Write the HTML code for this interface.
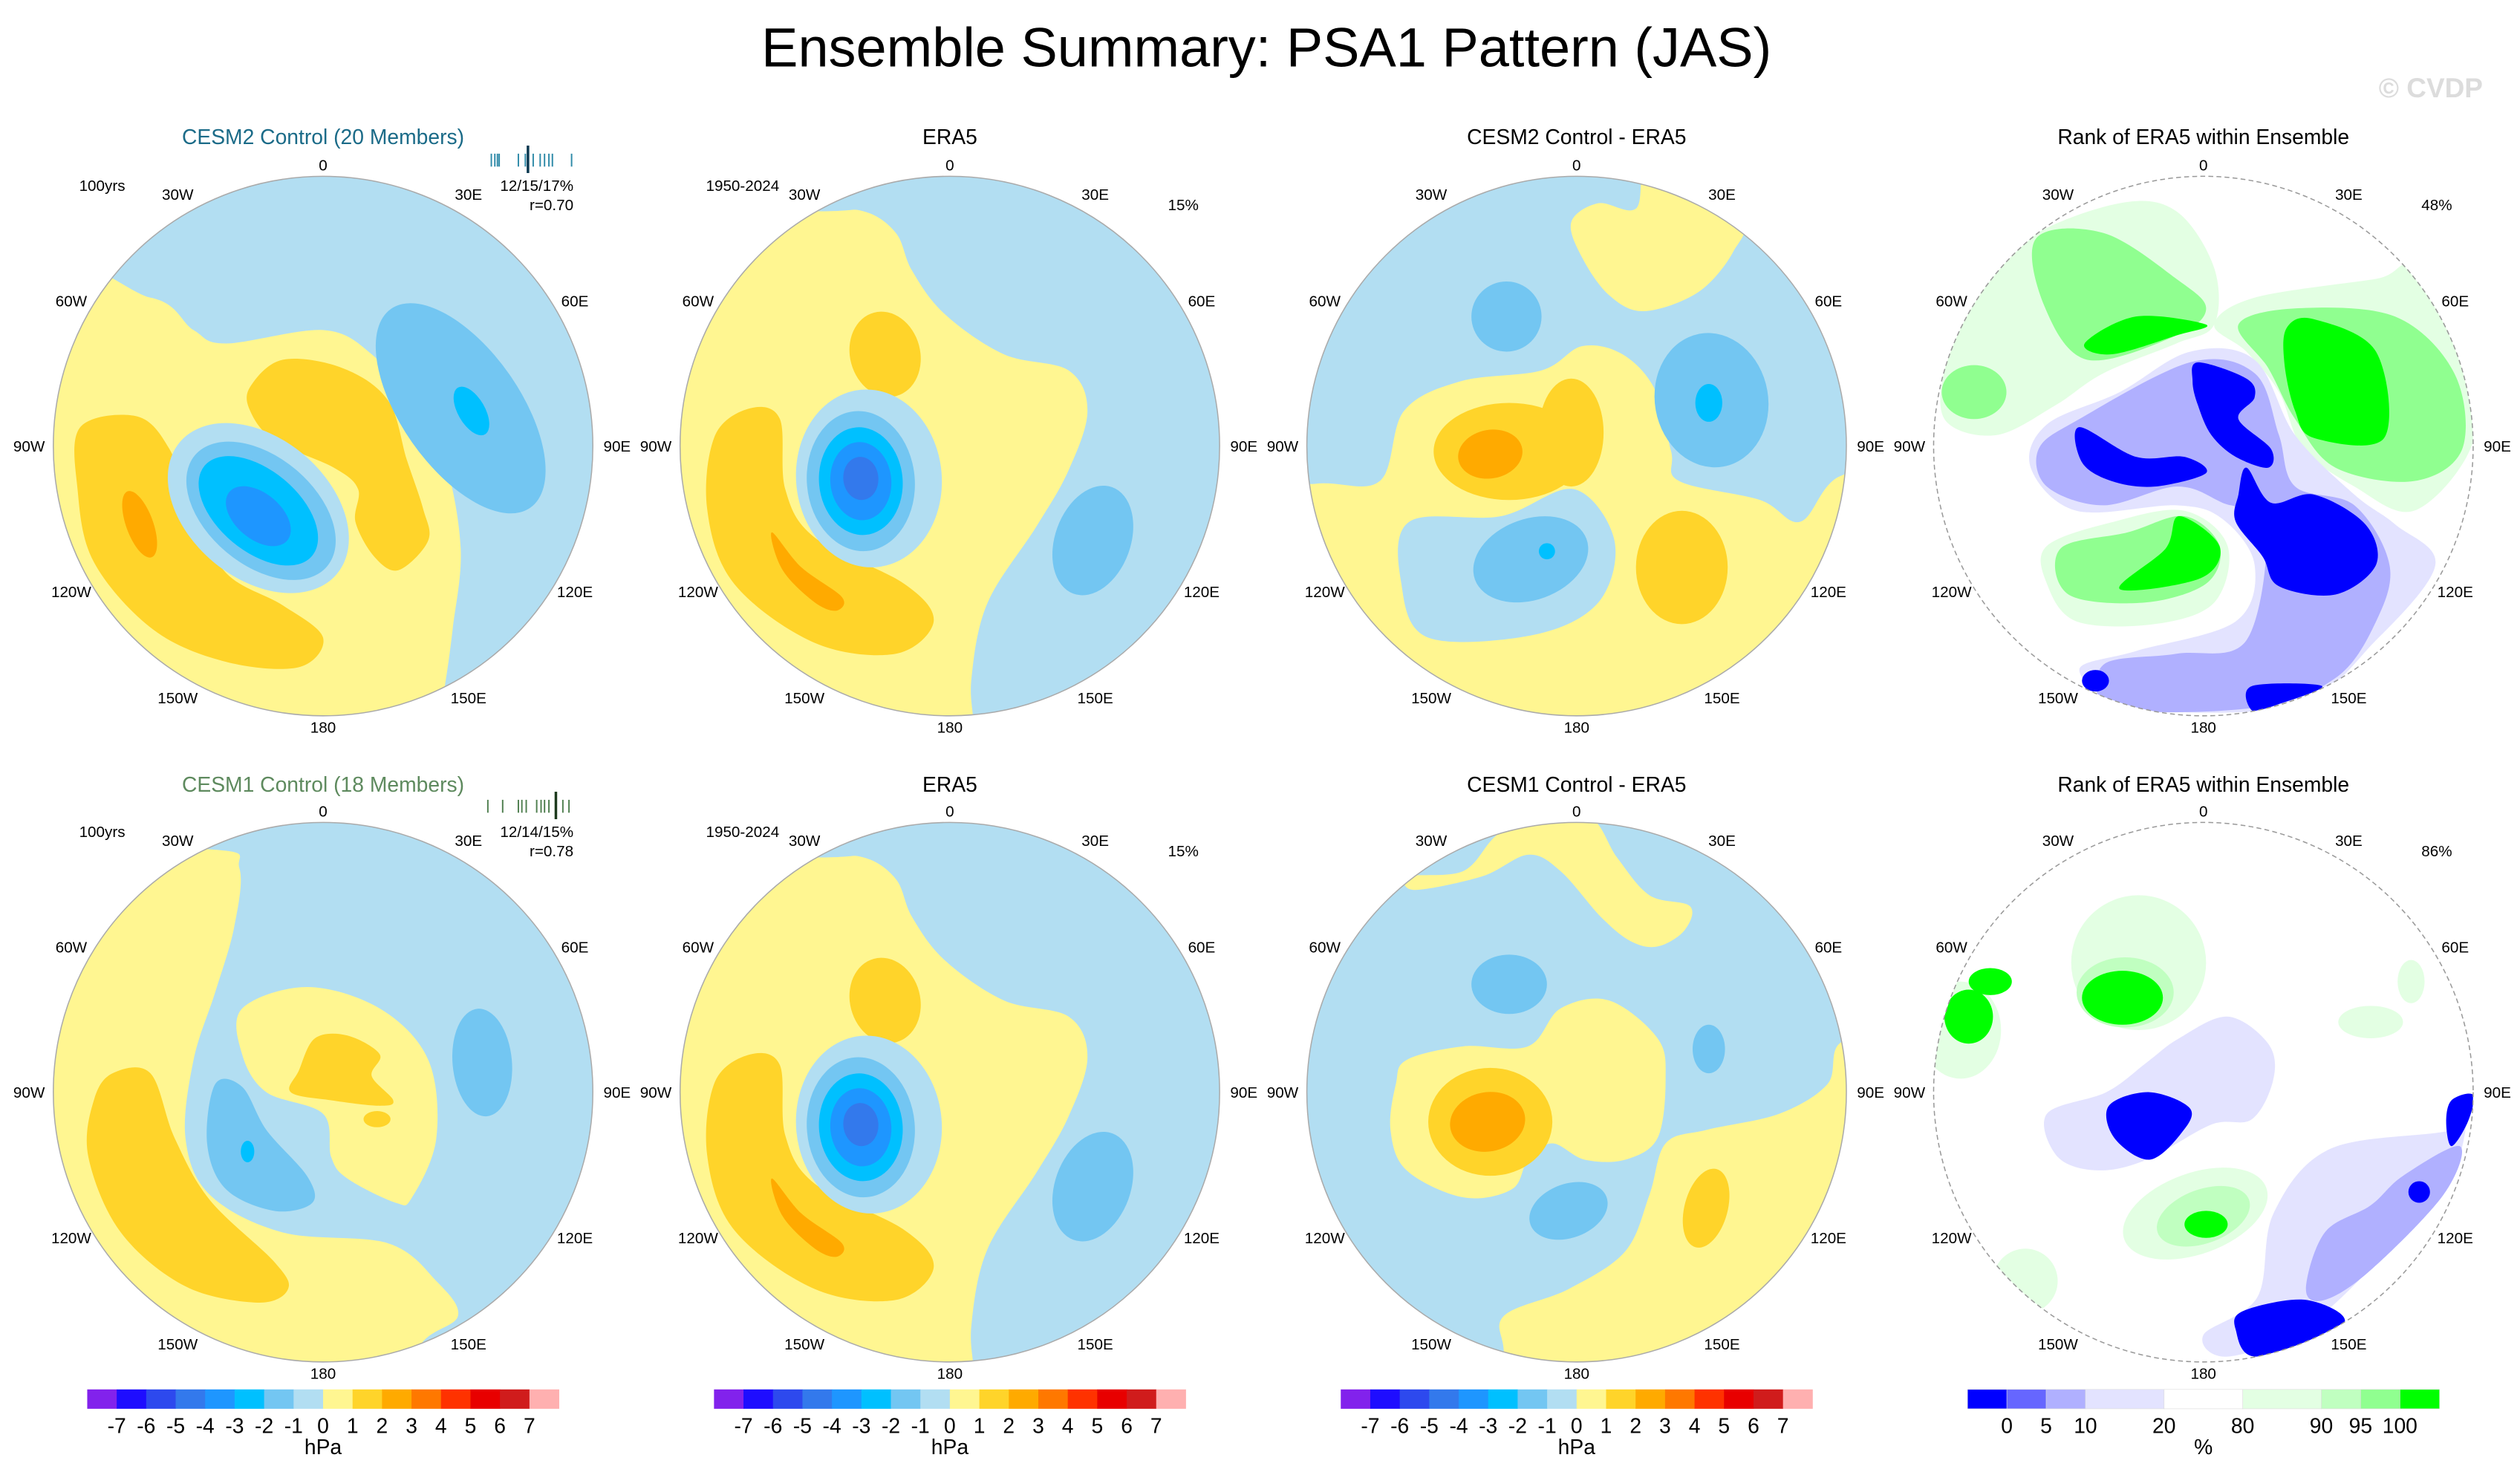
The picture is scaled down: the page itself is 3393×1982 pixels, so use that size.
<!DOCTYPE html>
<html><head><meta charset="utf-8"><title>Ensemble Summary: PSA1 Pattern (JAS)</title>
<style>
html,body{margin:0;padding:0;background:#fff;}
svg{display:block;font-family:"Liberation Sans",Arial,sans-serif;}
</style></head>
<body>
<svg id="fig" xmlns="http://www.w3.org/2000/svg" width="3393" height="1982" viewBox="0 0 1560 911">
<rect x="0" y="0" width="1560" height="911" fill="#fff"/>
<text x="784" y="41" font-size="34" text-anchor="middle" fill="#000">Ensemble Summary: PSA1 Pattern (JAS)</text>
<text x="1537" y="60" font-size="17" font-weight="bold" text-anchor="end" fill="#dcdcdc">© CVDP</text>
<g id="panels"></g>
</svg>
<script>
// ---- data ----
const fieldColors = ["#8222ec","#1e0dff","#2d49ee","#3379ec","#1e96ff","#00c0ff","#73c6f2","#b2def2","#fff691","#ffd42a","#ffaa00","#ff7800","#ff3200","#e80000","#d01c1c","#ffb0b0"];
const fieldTicks = ["-7","-6","-5","-4","-3","-2","-1","0","1","2","3","4","5","6","7"];
const rankColors = ["#0000ff","#6666ff","#b0b0ff","#e3e3ff","#ffffff","#e3ffe3","#c0ffc0","#90ff90","#00ff00"];
const rankWidths = [1,1,1,2,2,2,1,1,1];
const rankTicks = ["0","5","10","20","80","90","95","100"];
const lonLabels = ["0","30E","60E","90E","120E","150E","180","150W","120W","90W","60W","30W"];
const cesm2Members = [0.04,0.08,0.11,0.13,0.35,0.43,0.52,0.6,0.65,0.7,0.74,0.96];
const cesm2Obs = 0.46;
const cesm1Members = [0.0,0.17,0.35,0.39,0.44,0.56,0.61,0.65,0.7,0.86,0.93];
const cesm1Obs = 0.78;

// field shapes: k = colour index, p = polygon (normalized u,v), e = ellipse [cu,cv,rx,ry,rot]
const era5Field = [
 {k:8,p:[[-0.5,-0.87],[-0.32,-0.87],[-0.2,-0.79],[-0.14,-0.65],[-0.02,-0.49],[0.2,-0.34],[0.44,-0.28],[0.51,-0.13],[0.44,0.09],[0.32,0.3],[0.14,0.58],[0.08,0.86],[0.09,1.05],[0.1,1.3],[-1.3,1.3],[-1.3,-0.87]]},
 {k:9,e:[-0.24,-0.34,0.13,0.16,-15]},
 {k:9,p:[[-0.74,-0.14],[-0.63,-0.1],[-0.61,0.16],[-0.5,0.34],[-0.17,0.51],[-0.06,0.65],[-0.2,0.77],[-0.5,0.73],[-0.8,0.51],[-0.9,0.23],[-0.87,-0.04]]},
 {k:10,p:[[-0.66,0.32],[-0.55,0.45],[-0.4,0.56],[-0.42,0.61],[-0.5,0.58],[-0.62,0.46]]},
 {k:7,e:[-0.3,0.12,0.27,0.33,-5]},
 {k:6,e:[-0.33,0.13,0.2,0.26,-5]},
 {k:5,e:[-0.33,0.13,0.155,0.2,-5]},
 {k:4,e:[-0.33,0.13,0.113,0.145,-5]},
 {k:3,e:[-0.33,0.12,0.065,0.08,-5]},
 {k:6,e:[0.53,0.35,0.14,0.21,20]}
];
const panelFields = [
 [
  {k:8,p:[[-1.1,-0.55],[-0.64,-0.55],[-0.48,-0.43],[-0.36,-0.38],[0,-0.43],[0.18,-0.34],[0.33,-0.16],[0.45,0.05],[0.51,0.38],[0.48,0.68],[0.45,0.9],[0.4,1.2],[-1.2,1.2]]},
  {k:9,p:[[-0.9,-0.07],[-0.69,-0.11],[-0.57,0.01],[-0.49,0.23],[-0.36,0.47],[-0.15,0.59],[0,0.71],[-0.09,0.82],[-0.36,0.8],[-0.63,0.68],[-0.85,0.43],[-0.91,0.16]]},
  {k:10,e:[-0.68,0.29,0.05,0.13,-20]},
  {k:9,p:[[-0.27,-0.22],[-0.15,-0.32],[0.07,-0.29],[0.24,-0.17],[0.31,0.05],[0.37,0.23],[0.39,0.35],[0.28,0.46],[0.19,0.41],[0.12,0.28],[0.13,0.16],[0.04,0.08],[-0.18,-0.02],[-0.27,-0.13]]},
  {k:7,e:[-0.24,0.23,0.38,0.26,40]},
  {k:6,e:[-0.23,0.24,0.32,0.2,40]},
  {k:5,e:[-0.24,0.24,0.26,0.15,40]},
  {k:4,e:[-0.24,0.26,0.14,0.085,40]},
  {k:6,e:[0.51,-0.14,0.45,0.22,55]},
  {k:5,e:[0.55,-0.13,0.1,0.05,60]}
 ],
 era5Field,
 [
  {k:8,p:[[-0.02,-0.83],[0.08,-0.9],[0.22,-0.88],[0.28,-1.05],[0.6,-0.85],[0.58,-0.72],[0.45,-0.57],[0.25,-0.5],[0.12,-0.56],[0.02,-0.7]]},
  {k:8,p:[[-0.97,0.14],[-0.73,0.13],[-0.64,-0.13],[-0.43,-0.24],[-0.13,-0.28],[0.02,-0.37],[0.17,-0.34],[0.29,-0.21],[0.35,0.02],[0.38,0.13],[0.68,0.2],[0.83,0.28],[0.98,0.11],[1.3,0.1],[1.3,1.3],[-1.3,1.3],[-1.3,0.2]]},
  {k:7,p:[[-0.62,0.28],[-0.28,0.26],[-0.01,0.16],[0.14,0.35],[0.08,0.58],[-0.16,0.7],[-0.55,0.71],[-0.65,0.51]]},
  {k:6,e:[-0.17,0.42,0.22,0.15,-20]},
  {k:5,e:[-0.11,0.39,0.03,0.03,0]},
  {k:6,e:[-0.26,-0.48,0.13,0.13,0]},
  {k:6,e:[0.5,-0.17,0.21,0.25,-10]},
  {k:5,e:[0.49,-0.16,0.05,0.07,0]},
  {k:9,e:[-0.25,0.02,0.28,0.18,0]},
  {k:9,e:[-0.02,-0.05,0.12,0.2,0]},
  {k:10,e:[-0.32,0.03,0.12,0.09,-10]},
  {k:9,e:[0.39,0.45,0.17,0.21,0]}
 ],
 null,
 [
  {k:8,p:[[-0.42,-0.9],[-0.31,-0.83],[-0.33,-0.61],[-0.4,-0.37],[-0.48,-0.12],[-0.51,0.17],[-0.42,0.38],[-0.15,0.52],[0.24,0.56],[0.42,0.7],[0.5,0.83],[0.36,0.94],[0.3,1.2],[-1.3,1.2],[-1.3,-0.9]]},
  {k:8,p:[[-0.3,-0.31],[-0.06,-0.39],[0.21,-0.31],[0.39,-0.12],[0.42,0.17],[0.33,0.39],[0.27,0.41],[0.09,0.32],[0.03,0.24],[0,0.08],[-0.21,0],[-0.3,-0.14]]},
  {k:9,p:[[-0.03,-0.2],[0.09,-0.21],[0.21,-0.14],[0.18,-0.06],[0.26,0.03],[0.21,0.05],[0.03,0.03],[-0.12,0],[-0.09,-0.08]]},
  {k:9,e:[0.2,0.1,0.05,0.03,0]},
  {k:9,p:[[-0.78,-0.07],[-0.64,-0.07],[-0.55,0.17],[-0.42,0.4],[-0.18,0.63],[-0.13,0.73],[-0.24,0.78],[-0.51,0.72],[-0.75,0.52],[-0.87,0.24],[-0.85,0.03]]},
  {k:6,p:[[-0.4,-0.03],[-0.3,-0.02],[-0.21,0.14],[-0.06,0.31],[-0.04,0.41],[-0.18,0.44],[-0.36,0.36],[-0.43,0.19]]},
  {k:5,e:[-0.28,0.22,0.025,0.04,0]},
  {k:6,e:[0.59,-0.11,0.11,0.2,-5]}
 ],
 era5Field,
 [
  {k:8,p:[[-0.62,-0.8],[-0.42,-0.82],[-0.3,-0.95],[-0.15,-1.05],[0.05,-1.02],[0.15,-0.87],[0.27,-0.73],[0.42,-0.69],[0.4,-0.6],[0.3,-0.54],[0.2,-0.56],[0.09,-0.65],[-0.06,-0.82],[-0.18,-0.88],[-0.35,-0.8],[-0.6,-0.75]]},
  {k:8,p:[[-0.63,-0.12],[-0.42,-0.17],[-0.18,-0.17],[-0.06,-0.31],[0.12,-0.34],[0.3,-0.2],[0.33,-0.05],[0.3,0.17],[0.18,0.25],[0.03,0.25],[-0.09,0.19],[-0.18,0.25],[-0.24,0.36],[-0.42,0.39],[-0.63,0.29],[-0.69,0.14],[-0.67,-0.03]]},
  {k:8,p:[[0.99,-0.19],[0.93,-0.03],[0.75,0.08],[0.48,0.14],[0.33,0.19],[0.27,0.38],[0.18,0.59],[-0.03,0.73],[-0.27,0.83],[-0.27,0.98],[-0.3,1.3],[1.3,1.3],[1.3,-0.19]]},
  {k:9,e:[-0.32,0.11,0.23,0.2,0]},
  {k:10,e:[-0.33,0.11,0.14,0.11,-10]},
  {k:9,e:[0.48,0.43,0.08,0.15,15]},
  {k:6,e:[-0.25,-0.4,0.14,0.11,0]},
  {k:6,e:[0.49,-0.16,0.06,0.09,0]},
  {k:6,e:[-0.03,0.44,0.15,0.1,-20]}
 ],
 null
];
const rankFields = {
 3: [
  {k:5,p:[[-0.95,-0.32],[-0.84,-0.55],[-0.65,-0.77],[-0.31,-0.9],[-0.1,-0.87],[0.04,-0.66],[0.04,-0.45],[-0.1,-0.38],[-0.37,-0.27],[-0.55,-0.15],[-0.77,-0.04],[-0.96,-0.1]]},
  {k:7,p:[[-0.62,-0.77],[-0.37,-0.79],[-0.1,-0.62],[0.01,-0.51],[-0.1,-0.41],[-0.43,-0.32],[-0.59,-0.52]]},
  {k:7,e:[-0.85,-0.2,0.12,0.1,0]},
  {k:8,p:[[-0.44,-0.38],[-0.25,-0.48],[0.01,-0.45],[-0.1,-0.41],[-0.34,-0.34]]},
  {k:5,p:[[0.04,-0.45],[0.19,-0.55],[0.64,-0.62],[0.78,-0.65],[0.99,-0.27],[0.99,0.01],[0.78,0.24],[0.56,0.15],[0.37,0.01],[0.28,-0.2],[0.16,-0.35]]},
  {k:7,p:[[0.13,-0.45],[0.34,-0.51],[0.71,-0.48],[0.93,-0.27],[0.96,0.01],[0.78,0.13],[0.49,0.08],[0.34,-0.1],[0.24,-0.29]]},
  {k:8,p:[[0.31,-0.44],[0.41,-0.47],[0.64,-0.35],[0.67,-0.03],[0.41,-0.03],[0.34,-0.13],[0.3,-0.31]]},
  {k:3,p:[[-0.58,-0.08],[-0.31,-0.2],[-0.05,-0.35],[0.19,-0.32],[0.34,-0.04],[0.56,0.18],[0.71,0.29],[0.86,0.44],[0.64,0.72],[0.34,0.96],[-0.25,0.97],[-0.46,0.83],[-0.25,0.76],[0.12,0.65],[0.19,0.44],[0.07,0.27],[-0.1,0.22],[-0.47,0.24],[-0.64,0.08]]},
  {k:2,p:[[-0.61,0.01],[-0.46,-0.1],[-0.05,-0.31],[0.19,-0.27],[0.28,-0.04],[0.34,0.15],[0.56,0.22],[0.69,0.44],[0.64,0.65],[0.49,0.86],[0.19,0.97],[-0.33,0.97],[-0.37,0.81],[-0.1,0.77],[0.16,0.72],[0.23,0.3],[0.07,0.21],[-0.1,0.15],[-0.37,0.22],[-0.58,0.15]]},
  {k:0,p:[[-0.46,-0.07],[-0.25,0.04],[-0.07,0.04],[0.01,0.1],[-0.18,0.15],[-0.34,0.13],[-0.45,0.06]]},
  {k:0,p:[[-0.02,-0.31],[0.16,-0.25],[0.19,-0.18],[0.13,-0.1],[0.25,0.01],[0.24,0.08],[0.12,0.04],[0.03,-0.04],[-0.02,-0.15],[-0.04,-0.24]]},
  {k:0,p:[[0.16,0.08],[0.25,0.21],[0.41,0.18],[0.6,0.29],[0.64,0.44],[0.49,0.55],[0.28,0.52],[0.22,0.41],[0.12,0.28],[0.13,0.18]]},
  {k:0,p:[[0.18,0.89],[0.44,0.89],[0.27,0.96],[0.18,0.98]]},
  {k:0,e:[-0.4,0.87,0.05,0.04,0]},
  {k:5,p:[[-0.58,0.37],[-0.33,0.28],[-0.07,0.24],[0.09,0.37],[0.04,0.58],[-0.18,0.66],[-0.47,0.65],[-0.58,0.51]]},
  {k:7,p:[[-0.53,0.38],[-0.28,0.32],[-0.07,0.26],[0.06,0.37],[0.01,0.51],[-0.22,0.58],[-0.5,0.55]]},
  {k:8,p:[[-0.09,0.26],[0.06,0.37],[-0.01,0.49],[-0.31,0.53],[-0.14,0.38]]}
 ],
 7: [
  {k:3,p:[[-0.36,0],[-0.21,-0.11],[-0.09,-0.2],[0.09,-0.28],[0.24,-0.18],[0.26,-0.05],[0.18,0.1],[0.03,0.12],[-0.21,0.25],[-0.39,0.29],[-0.54,0.24],[-0.58,0.08]]},
  {k:0,p:[[-0.35,0.05],[-0.2,0.0],[-0.05,0.06],[-0.08,0.15],[-0.2,0.25],[-0.33,0.17]]},
  {k:3,p:[[0.47,0.21],[0.92,0.14],[0.98,0.05],[0.92,0.31],[0.68,0.59],[0.38,0.87],[0.09,0.98],[0,0.9],[0.2,0.76],[0.26,0.45]]},
  {k:2,p:[[0.74,0.31],[0.95,0.2],[0.89,0.38],[0.62,0.66],[0.45,0.77],[0.38,0.73],[0.45,0.52],[0.62,0.42]]},
  {k:0,p:[[0.15,0.81],[0.38,0.77],[0.52,0.86],[0.2,0.98],[0.12,0.88]]},
  {k:0,p:[[0.92,0.03],[1.0,0.01],[0.98,0.11],[0.92,0.2],[0.9,0.11]]},
  {k:0,e:[0.8,0.37,0.04,0.04,0]},
  {k:5,e:[-0.24,-0.48,0.25,0.25,0]},
  {k:6,e:[-0.29,-0.37,0.18,0.13,0]},
  {k:8,e:[-0.3,-0.35,0.15,0.1,0]},
  {k:5,e:[-0.9,-0.23,0.15,0.18,0]},
  {k:8,e:[-0.87,-0.28,0.09,0.1,0]},
  {k:8,e:[-0.79,-0.41,0.08,0.05,0]},
  {k:5,e:[0.77,-0.41,0.05,0.08,0]},
  {k:5,e:[0.62,-0.26,0.12,0.06,0]},
  {k:5,e:[-0.03,0.45,0.28,0.15,-20]},
  {k:6,e:[0.0,0.46,0.18,0.1,-20]},
  {k:8,e:[0.01,0.49,0.08,0.05,0]},
  {k:5,e:[-0.66,0.7,0.12,0.12,0]}
 ]
};
const panelTitles = ["CESM2 Control (20 Members)","ERA5","CESM2 Control - ERA5","Rank of ERA5 within Ensemble","CESM1 Control (18 Members)","ERA5","CESM1 Control - ERA5","Rank of ERA5 within Ensemble"];
const titleColors = ["#1b6b88","#000","#000","#000","#5e8a5e","#000","#000","#000"];
const leftNotes = ["100yrs","1950-2024","","","100yrs","1950-2024","",""];
const rightNotes = ["","15%","","48%","","15%","","86%"];
const statNotes = [["12/15/17%","r=0.70"],null,null,null,["12/14/15%","r=0.78"],null,null,null];

// ---- layout ----
const NS="http://www.w3.org/2000/svg";
const R=167;
const colX=[200,588,976,1364];
const rowY=[276,676];
const root=document.getElementById('panels');
function mk(tag,attrs,parent){const el=document.createElementNS(NS,tag);for(const a in attrs)el.setAttribute(a,attrs[a]);(parent||root).appendChild(el);return el;}
function smooth(pts,cx,cy){
 const P=pts.map(p=>[cx+p[0]*R,cy+p[1]*R]);const n=P.length;let d=`M${P[0][0].toFixed(1)},${P[0][1].toFixed(1)}`;
 for(let i=0;i<n;i++){const p0=P[(i-1+n)%n],p1=P[i],p2=P[(i+1)%n],p3=P[(i+2)%n];
  const c1=[p1[0]+(p2[0]-p0[0])/6,p1[1]+(p2[1]-p0[1])/6],c2=[p2[0]-(p3[0]-p1[0])/6,p2[1]-(p3[1]-p1[1])/6];
  d+=`C${c1[0].toFixed(1)},${c1[1].toFixed(1)} ${c2[0].toFixed(1)},${c2[1].toFixed(1)} ${p2[0].toFixed(1)},${p2[1].toFixed(1)}`;}
 return d+'Z';}
function drawShapes(g,shapes,colors,cx,cy){
 shapes.forEach(s=>{let el;
  if(s.p){el=mk('path',{d:smooth(s.p,cx,cy),fill:colors[s.k]},g);}
  else{const[u,v,rx,ry,rot]=s.e;el=mk('ellipse',{cx:cx+u*R,cy:cy+v*R,rx:rx*R,ry:ry*R,transform:`rotate(${rot} ${cx+u*R} ${cy+v*R})`,fill:colors[s.k]},g);}
  
  
 });}
function txt(x,y,s,size,anchor,fill,parent,name){const t=mk('text',{x:x,y:y,'font-size':size,'text-anchor':anchor||'middle',fill:fill||'#000'},parent);t.textContent=s;
 
 
 return t;}

for(let i=0;i<8;i++){
 const col=i%4,row=Math.floor(i/4);const cx=colX[col],cy=rowY[row];const isRank=col===3;
 const g=mk('g',{});
 
 
 const cp=mk('clipPath',{id:'clip'+i},g);mk('circle',{cx:cx,cy:cy,r:R},cp);
 const mg=mk('g',{'clip-path':`url(#clip${i})`},g);
 
 
 mk('circle',{cx:cx,cy:cy,r:R,fill:isRank?'#ffffff':fieldColors[7]},mg);
 drawShapes(mg,isRank?rankFields[i]:panelFields[i],isRank?rankColors:fieldColors,cx,cy);
 const border=mk('circle',{cx:cx,cy:cy,r:R,fill:'none',stroke:isRank?'#999':'#aaa','stroke-width':0.7,'stroke-dasharray':isRank?'3 2':'none'},g);
 
 
 lonLabels.forEach((l,j)=>{const a=j*30*Math.PI/180;const rr=(j%3===0)?(j===0||j===6?174:182):180;
  txt(cx+Math.sin(a)*rr,cy-Math.cos(a)*rr+3.5,l,9.5,'middle','#000',g,'longitude-label');});
 const ty=row===0?89:490;
 txt(cx,ty,panelTitles[i],13,'middle',titleColors[i],g,'panel-title');
 if(leftNotes[i])txt(cx-151,cy-158,leftNotes[i],9.5,'start','#000',g,'period-label');
 if(rightNotes[i])txt(cx+154,cy-146,rightNotes[i],9.5,'end','#000',g,'pattern-variance-label');
 if(statNotes[i]){txt(cx+155,cy-158,statNotes[i][0],9.5,'end','#000',g,'percentile-label');txt(cx+155,cy-146,statNotes[i][1],9.5,'end','#000',g,'correlation-label');}
}
// member tick strips
function ticks(vals,obs,cx,cy,color,obsColor){
 const g=mk('g',{});
 
 
 const x0=cx+102,w=54,yc=cy-177;
 vals.forEach(v=>{const l=mk('line',{x1:x0+v*w,x2:x0+v*w,y1:yc-4,y2:yc+4,stroke:color,'stroke-width':0.9},g);
  
  });
 const o=mk('line',{x1:x0+obs*w,x2:x0+obs*w,y1:yc-9,y2:yc+8,stroke:obsColor,'stroke-width':1.6},g);
 
 
}
ticks(cesm2Members,cesm2Obs,colX[0],rowY[0],'#2f8aa8','#0b3850');
ticks(cesm1Members,cesm1Obs,colX[0],rowY[1],'#4f7f4f','#1e3a1e');
// colorbars
const barY=860,barH=12;
for(let c=0;c<3;c++){
 const g=mk('g',{});
 
 
 const x0=colX[c]-146,bw=292/fieldColors.length;
 fieldColors.forEach((col,k)=>{const r=mk('rect',{x:x0+k*bw,y:barY,width:bw+0.2,height:barH,fill:col},g);
  
  });
 fieldTicks.forEach((t,k)=>txt(x0+(k+1)*bw,887,t,13,'middle','#000',g,'colorbar-tick-label'));
 txt(colX[c],900,'hPa',13,'middle','#000',g,'colorbar-unit');
}
{
 const g=mk('g',{});
 
 
 const total=rankWidths.reduce((a,b)=>a+b,0);const unit=292/total;let x=colX[3]-146;const bounds=[];
 rankColors.forEach((col,k)=>{const w=rankWidths[k]*unit;const r=mk('rect',{x:x,y:barY,width:w+0.2,height:barH,fill:col,stroke:'#ddd','stroke-width':0.3},g);
  
  
  x+=w;bounds.push(x);});
 rankTicks.forEach((t,k)=>txt(bounds[k],887,t,13,'middle','#000',g,'colorbar-tick-label'));
 txt(colX[3],900,'%',13,'middle','#000',g,'colorbar-unit');
}
</script>
</body></html>
